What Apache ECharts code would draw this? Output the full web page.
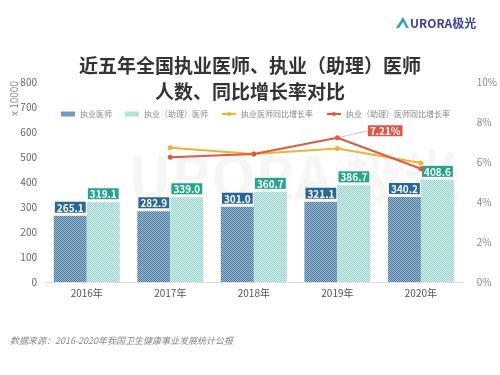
<!DOCTYPE html>
<html>
<head>
<meta charset="utf-8">
<script src="https://cdn.jsdelivr.net/npm/echarts@6/dist/echarts.min.js"></script>
<style>
html, body { margin: 0; padding: 0; background: #fff; }
#chart { width: 500px; height: 375px; }
</style>
</head>
<body>
<div id="chart"></div>
<script>
// 数据
var years = ['2016年', '2017年', '2018年', '2019年', '2020年'];
var doctors = [265.1, 282.9, 301.0, 321.1, 340.2];
var assistDoctors = [319.1, 339.0, 360.7, 386.7, 408.6];
var doctorsRate = [null, 6.71, 6.40, 6.68, 5.95];
var assistRate = [null, 6.24, 6.40, 7.21, 5.66];

// 棋盘格纹理
function checker(c1, c2) {
    var cv = document.createElement('canvas');
    cv.width = 2;
    cv.height = 2;
    var ctx = cv.getContext('2d');
    ctx.fillStyle = c2;
    ctx.fillRect(0, 0, 2, 2);
    ctx.fillStyle = c1;
    ctx.fillRect(0, 0, 1, 1);
    ctx.fillRect(1, 1, 1, 1);
    return { image: cv, repeat: 'repeat' };
}

var font = '"Noto Sans CJK SC", "Noto Sans", sans-serif';
var myChart = echarts.init(document.getElementById('chart'));

var option = {
    backgroundColor: '#fff',
    textStyle: { fontFamily: font },
    title: {
        text: '近五年全国执业医师、执业（助理）医师\n人数、同比增长率对比',
        left: 'center',
        top: 48,
        textStyle: {
            fontSize: 19,
            fontWeight: 'bold',
            color: '#333',
            lineHeight: 26,
            fontFamily: font
        }
    },
    legend: {
        top: 105,
        left: 56,
        itemWidth: 14,
        itemHeight: 5,
        itemGap: 13,
        textStyle: { fontSize: 8, color: '#888' },
        data: [
            { name: '执业医师', icon: 'rect' },
            { name: '执业（助理）医师', icon: 'rect' },
            '执业医师同比增长率',
            '执业（助理）医师同比增长率'
        ]
    },
    grid: {
        left: 45,
        right: 30,
        top: 82,
        bottom: 93
    },
    graphic: [
        {
            type: 'text',
            left: 128,
            top: 148,
            z: -1,
            style: {
                text: 'URORA 极光',
                fontSize: 58,
                fontWeight: 'bold',
                fontFamily: font,
                fill: 'rgba(0,0,0,0.035)'
            }
        },
        {
            type: 'polygon',
            shape: { points: [[396, 28], [403, 17], [409, 28], [406, 28], [403, 22], [399, 28]] },
            style: {
                fill: new echarts.graphic.LinearGradient(0, 0, 1, 1, [
                    { offset: 0, color: '#3a7be0' },
                    { offset: 1, color: '#2cc3a8' }
                ])
            }
        },
        {
            type: 'text',
            left: 410,
            top: 17,
            style: {
                text: 'URORA极光',
                fontSize: 12,
                fontWeight: 'bold',
                fontFamily: font,
                fill: '#3b3f9c'
            }
        },
        {
            type: 'text',
            left: 10,
            top: 336,
            style: {
                text: '数据来源：2016-2020年我国卫生健康事业发展统计公报',
                fontSize: 9,
                fontStyle: 'italic',
                fontFamily: font,
                fill: '#888'
            }
        },
        {
            type: 'text',
            x: 14,
            y: 116,
            rotation: Math.PI / 2,
            style: {
                text: 'x 10000',
                fontSize: 10,
                fontFamily: font,
                fill: '#888',
                align: 'left',
                verticalAlign: 'middle'
            }
        }
    ],
    xAxis: {
        type: 'category',
        data: years,
        axisTick: { show: false },
        axisLine: { lineStyle: { color: '#ddd' } },
        axisLabel: { color: '#555', fontSize: 10, margin: 6 }
    },
    yAxis: [
        {
            type: 'value',
            min: 0,
            max: 800,
            interval: 100,
            splitLine: { show: false },
            axisLine: { show: false },
            axisTick: { show: false },
            axisLabel: { color: '#666', fontSize: 10, margin: 8 }
        },
        {
            type: 'value',
            min: 0,
            max: 10,
            interval: 2,
            splitLine: { show: false },
            axisLine: { show: false },
            axisTick: { show: false },
            axisLabel: {
                color: '#888',
                fontSize: 10,
                margin: 14,
                formatter: '{value}%'
            }
        }
    ],
    series: [
        {
            name: '执业医师',
            type: 'bar',
            barWidth: 33,
            barGap: '0%',
            data: doctors,
            itemStyle: { color: checker('#4a7ca3', '#a0bbd0') },
            label: {
                show: true,
                position: 'top',
                distance: 3,
                formatter: function (p) { return p.value.toFixed(1); },
                color: '#fff',
                fontSize: 10,
                fontWeight: 'bold',
                backgroundColor: '#2b6698',
                padding: [1, 2, 0, 2]
            }
        },
        {
            name: '执业（助理）医师',
            type: 'bar',
            barWidth: 33,
            data: assistDoctors,
            itemStyle: { color: checker('#8ed1c8', '#e0f2ef') },
            label: {
                show: true,
                position: 'top',
                distance: 3,
                formatter: function (p) { return p.value.toFixed(1); },
                color: '#fff',
                fontSize: 10,
                fontWeight: 'bold',
                backgroundColor: '#27a58a',
                padding: [1, 2, 0, 2]
            }
        },
        {
            name: '执业医师同比增长率',
            type: 'line',
            yAxisIndex: 1,
            data: doctorsRate,
            symbol: 'circle',
            symbolSize: 5,
            color: '#f2b231',
            lineStyle: { width: 2 }
        },
        {
            name: '执业（助理）医师同比增长率',
            type: 'line',
            yAxisIndex: 1,
            data: assistRate.map(function (v, i) {
                if (v === 7.21) {
                    return {
                        value: v,
                        label: {
                            show: true,
                            position: 'right',
                            distance: 5,
                            formatter: '{c}%',
                            color: '#fff',
                            fontSize: 10,
                            fontWeight: 'bold',
                            backgroundColor: '#e0574a',
                            padding: [1, 2, 0, 2]
                        }
                    };
                }
                return v;
            }),
            symbol: 'circle',
            symbolSize: 5,
            color: '#e0583f',
            lineStyle: { width: 2 },
            labelLayout: { dx: 23, dy: -7 },
            labelLine: { show: true, lineStyle: { color: '#ccc', width: 1 } }
        }
    ]
};

myChart.setOption(option);
</script>
</body>
</html>
